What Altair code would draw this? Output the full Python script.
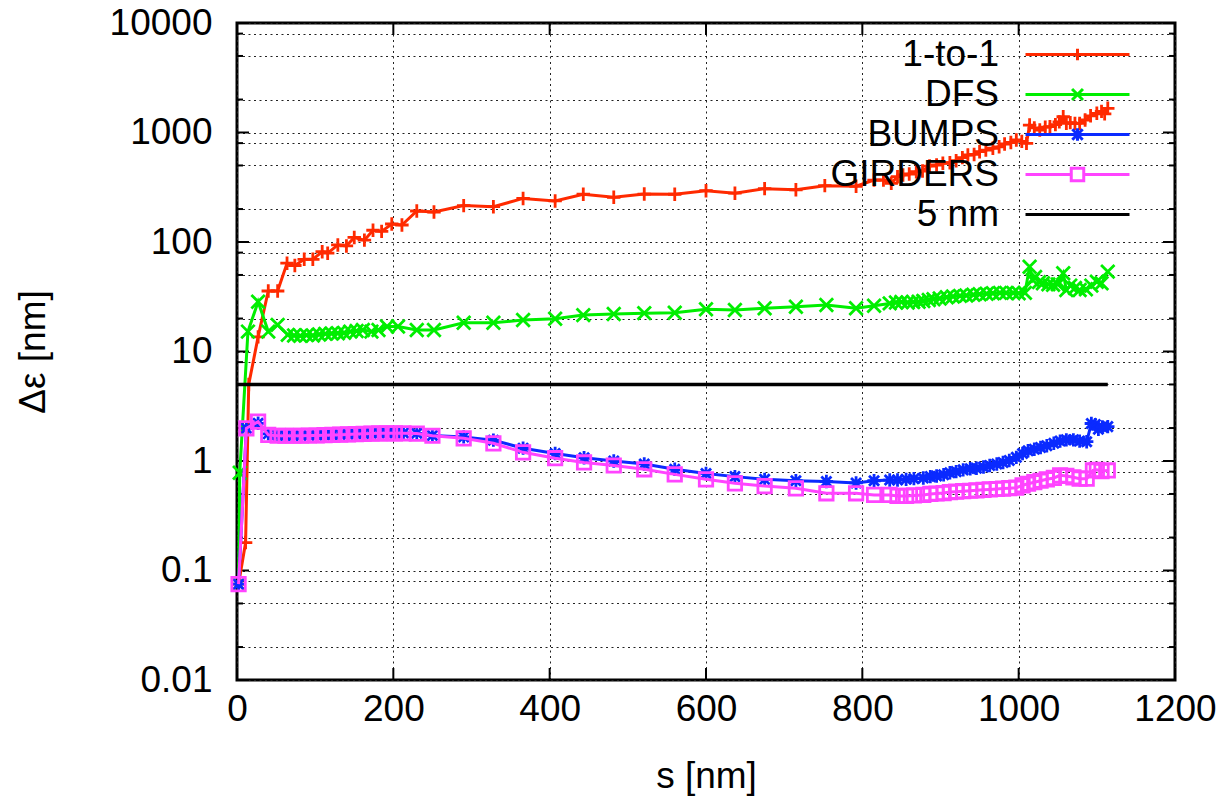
import altair as alt
import pandas as pd

W, H = 938, 657
FONT = "Liberation Sans"

series_names = ["1-to-1", "DFS", "BUMPS", "GIRDERS", "5 nm"]
series_colors = ["#ff2a00", "#00ee00", "#0a2aff", "#ff44ff", "#000000"]

one_to_one = [(2, 0.075), (11, 0.18), (15, 5.0), (27, 13.6), (40, 35.7), (52, 35.7), (64, 64), (74, 61),
              (86, 69.5), (97, 69.5), (109, 81.6), (116, 79), (129, 94), (140, 92), (150, 110), (163, 104),
              (174, 128), (185, 125), (198, 146), (211, 143), (230, 192), (252, 188), (290, 215), (328, 210),
              (366, 250), (407, 237), (443, 273), (482, 256), (521, 274), (560, 273), (600, 294), (637, 279),
              (675, 307), (715, 300), (752, 327), (792, 323), (815, 368), (827, 368), (837, 344), (845, 395),
              (852, 409), (860, 418), (869, 438), (877, 445), (886, 494), (895, 505), (903, 524), (912, 530),
              (920, 553), (928, 590), (935, 623), (943, 630), (950, 668), (958, 690), (967, 718), (975, 740),
              (982, 785), (990, 810), (997, 854), (1004, 830), (1010, 796), (1014, 1170), (1020, 1100),
              (1027, 1054), (1034, 1120), (1040, 1130), (1047, 1180), (1052, 1250), (1057, 1393), (1061, 1212),
              (1066, 1230), (1072, 1212), (1078, 1212), (1085, 1300), (1092, 1420), (1100, 1497), (1106, 1560),
              (1110, 1480), (1114, 1663)]

dfs = [(2, 0.075), (3.5, 0.78), (14, 15.2), (27, 28.5), (40, 15.2), (52, 17.5), (65, 14.2), (73, 14.0),
       (81, 13.9), (89, 14.1), (97, 14.0), (105, 14.3), (113, 14.5), (121, 14.6), (129, 14.7), (137, 14.8),
       (145, 15.2), (153, 15.4), (161, 15.7), (172, 15.2), (181, 15.7), (192, 16.9), (206, 16.9), (230, 15.7),
       (252, 15.7), (290, 18.3), (328, 18.3), (366, 19.4), (407, 19.9), (443, 21.5), (482, 22.0), (521, 22.4),
       (560, 22.6), (600, 24.3), (637, 23.9), (675, 24.8), (715, 25.6), (754, 26.6), (792, 24.8), (815, 26.2),
       (835, 27.5), (843, 28.0), (850, 28.3), (858, 28.0), (865, 28.3), (872, 28.5), (878, 28.9), (885, 29.5),
       (891, 30.0), (899, 30.5), (908, 31.3), (916, 31.8), (925, 32.2), (933, 32.5), (942, 33.0), (950, 33.3),
       (959, 33.7), (967, 34.0), (976, 34.3), (984, 34.3), (993, 34.3), (1000, 34.0), (1008, 34.3),
       (1014, 59.5), (1018, 45), (1021, 48), (1026, 43), (1031, 42), (1038, 41), (1044, 40.6), (1050, 41),
       (1057, 51.8), (1061, 36.5), (1066, 40), (1072, 38), (1078, 36.5), (1086, 37), (1093, 40),
       (1100, 43.4), (1106, 42), (1114, 53.6)]

bumps = [(2, 0.075), (12, 1.99), (27, 2.21), (40, 1.77), (52, 1.72), (62, 1.71), (72, 1.71), (82, 1.71),
         (92, 1.72), (102, 1.72), (112, 1.73), (122, 1.74), (132, 1.75), (142, 1.76), (152, 1.77), (162, 1.78),
         (172, 1.79), (182, 1.80), (192, 1.80), (202, 1.80), (213, 1.80), (230, 1.79), (250, 1.71), (290, 1.66),
         (328, 1.55), (366, 1.31), (407, 1.17), (444, 1.07), (482, 1.00), (521, 0.94), (560, 0.84), (600, 0.77),
         (637, 0.72), (675, 0.68), (715, 0.66), (754, 0.65), (792, 0.63), (815, 0.66), (835, 0.67), (845, 0.67),
         (856, 0.68), (866, 0.69), (878, 0.70), (887, 0.72), (895, 0.73), (904, 0.75), (912, 0.78), (920, 0.80),
         (929, 0.83), (938, 0.85), (946, 0.86), (955, 0.88), (963, 0.91), (972, 0.94), (980, 0.97), (988, 1.01),
         (997, 1.08), (1005, 1.17), (1012, 1.24), (1020, 1.28), (1028, 1.33), (1036, 1.38), (1045, 1.45),
         (1053, 1.52), (1061, 1.56), (1070, 1.56), (1078, 1.52), (1087, 1.50), (1093, 2.20), (1098, 2.15),
         (1102, 1.95), (1107, 2.05), (1114, 2.06)]

girders = [(2, 0.075), (12, 1.99), (27, 2.29), (40, 1.73), (52, 1.70), (62, 1.70), (72, 1.70), (82, 1.70),
           (92, 1.71), (102, 1.71), (112, 1.72), (122, 1.73), (132, 1.74), (142, 1.75), (152, 1.76), (162, 1.77),
           (172, 1.78), (182, 1.79), (192, 1.79), (202, 1.79), (213, 1.79), (230, 1.78), (250, 1.70), (290, 1.61),
           (328, 1.45), (366, 1.20), (407, 1.06), (444, 0.97), (482, 0.91), (521, 0.84), (560, 0.755), (600, 0.68),
           (637, 0.625), (675, 0.59), (715, 0.563), (754, 0.507), (792, 0.507), (815, 0.49), (835, 0.49),
           (845, 0.48), (856, 0.48), (866, 0.485), (878, 0.49), (887, 0.50), (895, 0.505), (904, 0.51),
           (912, 0.52), (920, 0.525), (929, 0.53), (938, 0.535), (946, 0.54), (955, 0.545), (963, 0.55),
           (972, 0.555), (980, 0.56), (988, 0.565), (997, 0.57), (1005, 0.60), (1012, 0.62), (1020, 0.64),
           (1028, 0.66), (1036, 0.68), (1045, 0.70), (1053, 0.74), (1061, 0.73), (1070, 0.71), (1078, 0.69),
           (1087, 0.69), (1095, 0.82), (1100, 0.83), (1106, 0.81), (1114, 0.82)]

five_nm = [(0, 5.0), (1114, 5.0)]

x_ticks = [0, 200, 400, 600, 800, 1000, 1200]
y_major = [0.01, 0.1, 1, 10, 100, 1000, 10000]
y_minor = [0.02, 0.05, 0.08, 0.2, 0.5, 0.8, 2, 5, 8, 20, 50, 80, 200, 500, 800, 2000, 5000, 8000]

marker_paths = {
    "1-to-1": "M-1,0H1M0,-1V1",
    "DFS": "M-1,-1L1,1M-1,1L1,-1",
    "BUMPS": "M-1,0H1M0,-1V1M-0.75,-0.75L0.75,0.75M-0.75,0.75L0.75,-0.75",
    "GIRDERS": "M-1,-1H1V1H-1Z",
}
legend_paths = [
    "M-4,0H4M0,-0.45V0.45",
    "M-4,0H4M-0.42,-0.42L0.42,0.42M-0.42,0.42L0.42,-0.42",
    "M-4,0H4M0,-0.48V0.48M-0.4,-0.4L0.4,0.4M-0.4,0.4L0.4,-0.4",
    "M-4,0H-0.48M0.48,0H4M-0.48,-0.48H0.48V0.48H-0.48Z",
    "M-4,0H4",
]

all_series = [one_to_one, dfs, bumps, girders, five_nm]
rows = []
for name, pts in zip(series_names, all_series):
    for s, v in pts:
        rows.append({"series": name, "s": s, "v": v})
df = pd.DataFrame(rows)

x_scale = alt.Scale(domain=[0, 1200], nice=False, zero=False)
y_scale = alt.Scale(type="log", domain=[0.01, 10000], nice=False)

grid_dash = [2, 3.5]

x_axis = alt.Axis(values=x_ticks, grid=True, gridDash=grid_dash, gridColor="#222", gridWidth=1,
                  ticks=False, tickSize=0, domain=False, labelFont=FONT, labelFontSize=37,
                  labelColor="black", labelBaseline="alphabetic", labelPadding=40, labelFlush=False,
                  labelOverlap=False, format="d", title="s [nm]", titleFont=FONT, titleFontSize=37,
                  titleFontWeight="normal", titleColor="black", titleBaseline="alphabetic",
                  titleX=W / 2, titleY=107, titleAlign="center")
y_axis = alt.Axis(values=y_major + y_minor, grid=True, gridDash=grid_dash, gridColor="#222", gridWidth=1,
                  ticks=False, tickSize=0, domain=False, labelFont=FONT, labelFontSize=37,
                  labelColor="black", labelPadding=25, labelFlush=False, labelOverlap=False, format="~g",
                  labelExpr="abs(log(datum.value)/log(10) - round(log(datum.value)/log(10))) < 0.001 ? datum.label : ''",
                  title="Δε [nm]", titleFont=FONT, titleFontSize=37, titleFontWeight="normal",
                  titleColor="black", titleBaseline="alphabetic", titleAngle=270, titleX=-193, titleY=H / 2,
                  titleAlign="center")


def X(field):
    return alt.X(field, type="quantitative", scale=x_scale, axis=x_axis)


def Y(field):
    return alt.Y(field, type="quantitative", scale=y_scale, axis=y_axis)


base = alt.Chart(df)

layers = []
# axes + grid carrier (invisible)
layers.append(base.mark_point(opacity=0).encode(x=X("s"), y=Y("v")))

# inward tick marks
ymaj = pd.DataFrame({"s": [0] * len(y_major), "v": y_major})
ymin = pd.DataFrame({"s": [0] * len(y_minor), "v": y_minor})
xt = pd.DataFrame({"s": x_ticks, "v": [1] * len(x_ticks)})
for tdf, ln in [(ymaj, 12), (ymin, 6)]:
    layers.append(alt.Chart(tdf).mark_rule(color="black", strokeWidth=2).encode(
        y=Y("v"), x=alt.value(0), x2=alt.value(ln)))
    layers.append(alt.Chart(tdf).mark_rule(color="black", strokeWidth=2).encode(
        y=Y("v"), x=alt.value(W - ln), x2=alt.value(W)))
layers.append(alt.Chart(xt).mark_rule(color="black", strokeWidth=2).encode(
    x=X("s"), y=alt.value(H), y2=alt.value(H - 12)))
layers.append(alt.Chart(xt).mark_rule(color="black", strokeWidth=2).encode(
    x=X("s"), y=alt.value(0), y2=alt.value(12)))

# data series
for name, color in zip(series_names, series_colors):
    sub = base.transform_filter(alt.datum.series == name)
    layers.append(sub.mark_line(color=color, strokeWidth=3 if name != "5 nm" else 3.5).encode(
        x=X("s"), y=Y("v"), order="s:Q"))
    if name in marker_paths:
        layers.append(sub.mark_point(shape=marker_paths[name], size=180, color=color, filled=False,
                                     strokeWidth=2.8, opacity=1).encode(x=X("s"), y=Y("v")))

# legend carrier
layers.append(
    base.transform_filter("false").mark_point(filled=False, strokeWidth=3, opacity=1).encode(
        x=X("s"), y=Y("v"),
        color=alt.Color("series:N", scale=alt.Scale(domain=series_names, range=series_colors),
                        legend=alt.Legend(orient="none", legendX=822, legendY=13, title=None,
                                          labelFont=FONT, labelFontSize=37, labelColor="black",
                                          labelAlign="right", labelOffset={"expr": "-97"}, labelLimit=0,
                                          symbolSize=676, symbolStrokeWidth=3, symbolOpacity=1,
                                          rowPadding=2, padding=0, symbolFillColor="transparent")),
        shape=alt.Shape("series:N", scale=alt.Scale(domain=series_names, range=legend_paths)),
    )
)

chart = alt.layer(*layers).properties(
    width=W, height=H,
    padding={"left": 237, "top": 23, "right": 57, "bottom": 119},
    autosize=alt.AutoSizeParams(type="none"),
    background="white",
).configure_view(stroke="black", strokeWidth=3)

chart.save("out.html", embed_options={"renderer": "svg", "actions": False})
